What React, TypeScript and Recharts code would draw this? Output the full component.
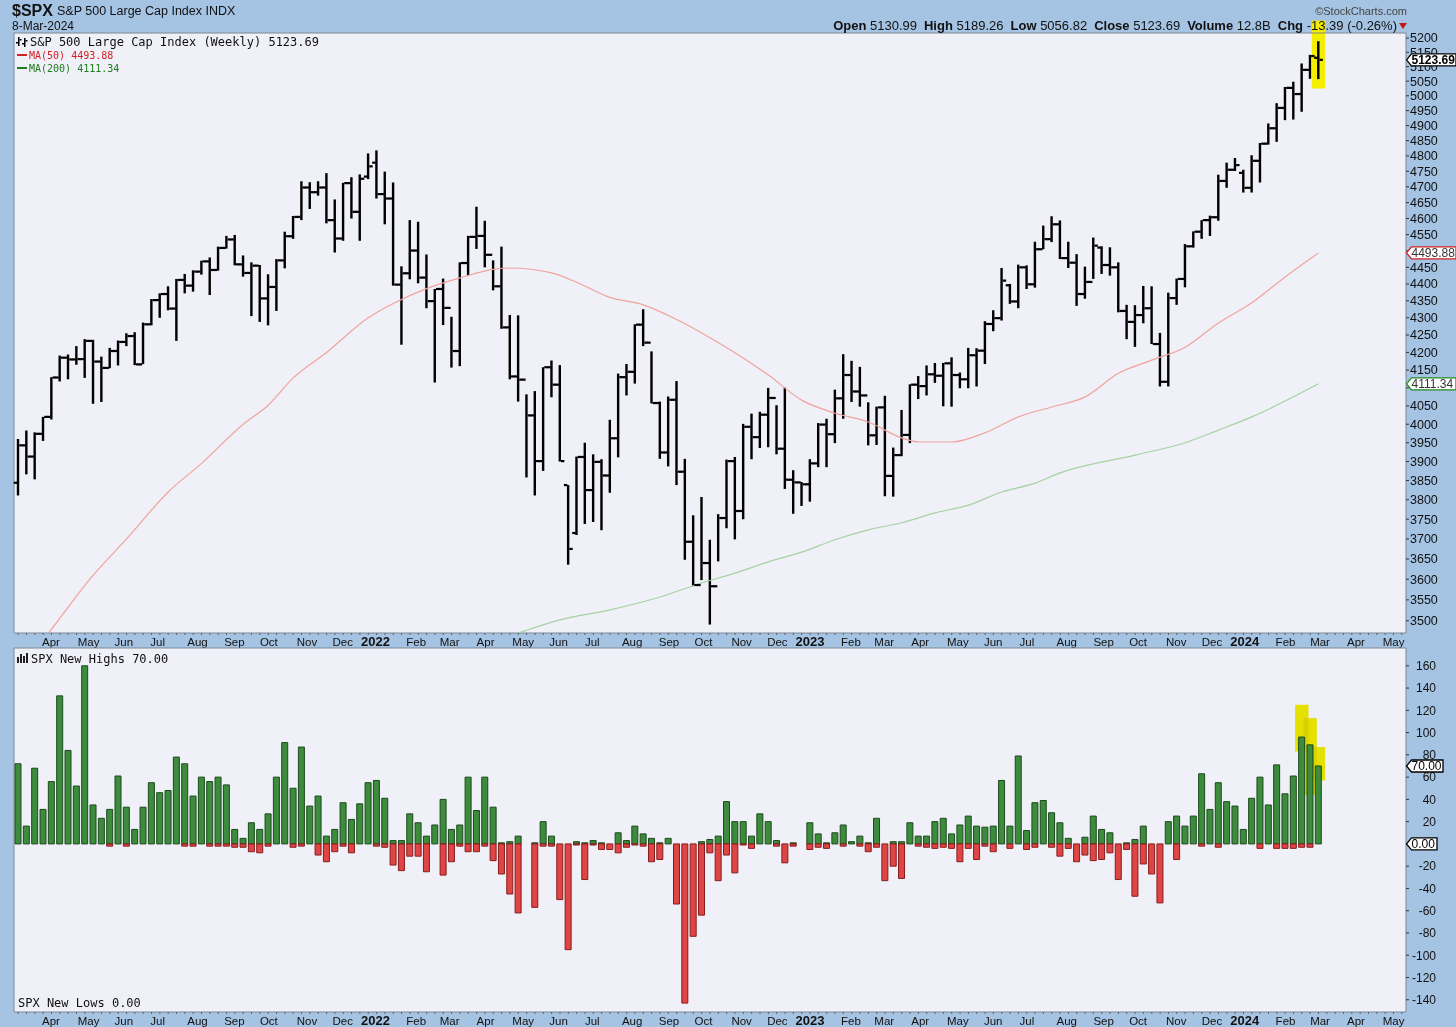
import React from 'react';
import {
  ComposedChart,
  Bar,
  Line,
  XAxis,
  YAxis,
  ReferenceArea,
  CartesianGrid,
} from 'recharts';

// ---------------- categories ----------------
const FIRST_WEEK = '2021-03-12';
const DATA_WEEKS = 157;
const TOTAL_WEEKS = 167; // includes empty future weeks up to May 2024

function makeWeeks(start: string, n: number): string[] {
  const [y, m, d] = start.split('-').map(Number);
  const t0 = Date.UTC(y, m - 1, d);
  const out: string[] = [];
  for (let i = 0; i < n; i++) out.push(new Date(t0 + i * 7 * 86400000).toISOString().slice(0, 10));
  return out;
}
const weeks = makeWeeks(FIRST_WEEK, TOTAL_WEEKS);

// ---------------- weekly OHLC ----------------
const opens = [
  3844, 3943, 3913, 3974, 4020, 4129, 4185, 4180, 4181, 4233,
  4174, 4156, 4204, 4230, 4247, 4166, 4281, 4352, 4370, 4327,
  4412, 4395, 4437, 4468, 4442, 4509, 4535, 4459, 4433, 4455,
  4357, 4391, 4471, 4545, 4605, 4698, 4683, 4698, 4595, 4538,
  4712, 4621, 4733, 4778, 4677, 4663, 4398, 4432, 4501, 4419,
  4349, 4385, 4329, 4204, 4463, 4543, 4546, 4488, 4393, 4272,
  4132, 4123, 4024, 3901, 4158, 4109, 3838, 3715, 3912, 3825,
  3899, 3863, 3962, 4130, 4145, 4280, 4228, 4058, 3924, 4067,
  3873, 3693, 3586, 3640, 3583, 3753, 3901, 3771, 3993, 3965,
  4026, 4072, 3934, 3852, 3845, 3840, 3895, 3999, 3973, 4071,
  4136, 4090, 4079, 3970, 4046, 3862, 3917, 3971, 4109, 4105,
  4138, 4134, 4169, 4136, 4124, 4192, 4205, 4282, 4299, 4396,
  4348, 4450, 4399, 4505, 4536, 4582, 4478, 4464, 4370, 4406,
  4510, 4457, 4450, 4320, 4288, 4308, 4328, 4224, 4117, 4358,
  4415, 4514, 4559, 4595, 4604, 4719, 4755, 4745, 4697, 4784,
  4840, 4891, 4959, 5027, 5006, 5089, 5131,
];
const highs = [
  3960, 3983, 3978, 4020, 4130, 4191, 4194, 4218, 4238, 4236,
  4188, 4213, 4234, 4255, 4258, 4286, 4355, 4372, 4393, 4415,
  4430, 4441, 4470, 4480, 4513, 4546, 4549, 4486, 4465, 4457,
  4429, 4475, 4559, 4608, 4718, 4715, 4718, 4744, 4660, 4713,
  4731, 4740, 4808, 4818, 4749, 4714, 4453, 4595, 4590, 4489,
  4385, 4416, 4303, 4465, 4546, 4637, 4593, 4471, 4513, 4308,
  4307, 4082, 4091, 4158, 4177, 4164, 3838, 3913, 3950, 3919,
  3906, 4012, 4140, 4167, 4281, 4325, 4203, 4062, 4076, 4119,
  3907, 3760, 3807, 3698, 3763, 3905, 3912, 4001, 4029, 4034,
  4100, 4052, 4101, 3877, 3846, 3906, 4003, 4015, 4095, 4195,
  4176, 4159, 4060, 4048, 4078, 3937, 4039, 4110, 4133, 4163,
  4170, 4170, 4186, 4143, 4213, 4212, 4290, 4322, 4448, 4400,
  4458, 4456, 4528, 4578, 4607, 4594, 4528, 4490, 4452, 4541,
  4514, 4511, 4465, 4338, 4337, 4394, 4393, 4256, 4374, 4416,
  4521, 4560, 4595, 4609, 4739, 4778, 4793, 4755, 4802, 4842,
  4907, 4975, 5030, 5048, 5111, 5141, 5189,
];
const lows = [
  3811, 3866, 3853, 3955, 4013, 4118, 4124, 4165, 4128, 4056,
  4061, 4155, 4163, 4218, 4164, 4167, 4278, 4300, 4322, 4233,
  4372, 4377, 4428, 4367, 4440, 4507, 4456, 4422, 4305, 4288,
  4278, 4320, 4447, 4537, 4595, 4630, 4672, 4585, 4495, 4531,
  4600, 4531, 4725, 4663, 4582, 4395, 4222, 4414, 4402, 4328,
  4115, 4279, 4157, 4161, 4424, 4506, 4450, 4381, 4268, 4124,
  4062, 3858, 3811, 3875, 4074, 3900, 3636, 3710, 3738, 3743,
  3722, 3818, 3911, 4079, 4112, 4218, 4057, 3907, 3887, 3838,
  3648, 3584, 3598, 3491, 3644, 3727, 3699, 3750, 3906, 3936,
  3938, 3919, 3828, 3764, 3784, 3795, 3885, 3885, 3949, 4015,
  4061, 4048, 3943, 3944, 3809, 3808, 3914, 3949, 4069, 4079,
  4114, 4049, 4048, 4099, 4099, 4104, 4167, 4261, 4292, 4341,
  4328, 4385, 4389, 4505, 4527, 4475, 4448, 4335, 4356, 4415,
  4430, 4425, 4316, 4238, 4216, 4284, 4224, 4104, 4104, 4338,
  4390, 4510, 4537, 4546, 4593, 4697, 4751, 4682, 4682, 4714,
  4837, 4846, 4918, 4920, 4946, 5058, 5057,
];
const closes = [
  3943, 3913, 3974, 4020, 4129, 4185, 4180, 4181, 4233, 4174,
  4156, 4204, 4230, 4247, 4166, 4281, 4352, 4370, 4327, 4412,
  4395, 4437, 4468, 4442, 4509, 4535, 4459, 4433, 4455, 4357,
  4391, 4471, 4545, 4605, 4698, 4683, 4698, 4595, 4538, 4712,
  4621, 4726, 4766, 4677, 4663, 4398, 4432, 4501, 4419, 4349,
  4385, 4329, 4204, 4463, 4543, 4546, 4488, 4393, 4272, 4132,
  4123, 4024, 3901, 4158, 4109, 3901, 3675, 3912, 3825, 3899,
  3863, 3962, 4130, 4145, 4280, 4228, 4058, 3924, 4067, 3873,
  3693, 3586, 3640, 3583, 3753, 3901, 3771, 3993, 3965, 4026,
  4072, 3934, 3852, 3845, 3840, 3895, 3999, 3973, 4071, 4136,
  4090, 4079, 3970, 4046, 3862, 3917, 3971, 4109, 4105, 4138,
  4134, 4169, 4136, 4124, 4192, 4205, 4282, 4299, 4410, 4348,
  4450, 4399, 4505, 4536, 4582, 4478, 4464, 4370, 4406, 4516,
  4457, 4450, 4320, 4288, 4308, 4328, 4224, 4117, 4358, 4415,
  4514, 4559, 4595, 4604, 4719, 4755, 4770, 4697, 4784, 4840,
  4891, 4959, 5027, 5006, 5089, 5137, 5123.69,
];

// ---------------- moving averages (values read at sample weeks, 1-based) ----------------
const ma50Weeks = [1, 5, 10, 14, 19, 23, 28, 31, 34, 38, 43, 46, 50, 54, 58, 60, 65, 68, 72, 76, 80, 83, 87, 91, 95, 99, 103, 107, 109, 113, 117, 121, 125, 129, 133, 137, 141, 145, 149, 153, 157];
const ma50Values = [3380, 3480, 3610, 3700, 3820, 3895, 4000, 4052, 4128, 4200, 4300, 4342, 4386, 4418, 4444, 4448, 4433, 4405, 4360, 4338, 4295, 4256, 4199, 4136, 4066, 4030, 4006, 3963, 3952, 3952, 3977, 4020, 4047, 4075, 4141, 4178, 4215, 4285, 4344, 4421, 4493.88];
const ma200Weeks = [57, 61, 66, 72, 78, 83, 87, 91, 95, 99, 103, 107, 111, 115, 119, 123, 126, 135, 141, 145, 149, 157];
const ma200Values = [3445, 3471, 3502, 3526, 3557, 3591, 3615, 3643, 3667, 3698, 3723, 3741, 3766, 3786, 3820, 3843, 3870, 3917, 3950, 3984, 4020, 4111.34];

// ---------------- SPX new highs / new lows ----------------
const newHighs = [
  72, 16, 68, 31, 56, 133, 84, 52, 160, 35,
  23, 31, 61, 33, 13, 33, 55, 46, 48, 78,
  72, 43, 60, 56, 60, 53, 13, 5, 19, 13,
  27, 60, 91, 50, 87, 34, 43, 7, 13, 37,
  22, 36, 55, 57, 41, 3, 3, 27, 19, 7,
  17, 40, 13, 17, 60, 30, 60, 33, 1, 2,
  7, 0, 1, 20, 7, 0, 0, 2, 1, 3,
  1, 0, 10, 3, 16, 9, 5, 1, 5, 0,
  0, 0, 2, 4, 7, 38, 20, 20, 7, 27,
  20, 3, 0, 1, 0, 19, 9, 1, 10, 17,
  2, 7, 1, 23, 0, 2, 2, 19, 7, 7,
  20, 23, 9, 17, 25, 16, 15, 16, 57, 16,
  79, 12, 37, 39, 28, 19, 5, 0, 6, 25,
  13, 10, 0, 1, 4, 16, 0, 0, 20, 25,
  16, 25, 63, 31, 55, 38, 34, 13, 41, 60,
  35, 71, 45, 61, 96, 89, 70,
];
const newLows = [
  0, 0, 0, 0, 0, 0, 0, 0, 0, 0,
  0, 2, 0, 2, 0, 0, 0, 0, 0, 0,
  2, 2, 0, 2, 2, 2, 3, 3, 7, 8,
  2, 0, 0, 3, 2, 0, 10, 16, 7, 2,
  8, 0, 0, 2, 3, 19, 24, 11, 11, 25,
  0, 28, 16, 2, 7, 7, 2, 15, 27, 45,
  62, 0, 57, 2, 2, 50, 95, 1, 32, 1,
  5, 5, 8, 3, 1, 2, 16, 14, 0, 54,
  143, 83, 64, 8, 33, 10, 26, 1, 4, 0,
  0, 2, 17, 2, 0, 5, 3, 4, 0, 2,
  0, 2, 7, 3, 33, 20, 31, 0, 2, 3,
  4, 3, 4, 16, 4, 14, 2, 7, 0, 4,
  0, 5, 3, 0, 3, 11, 4, 16, 10, 15,
  14, 8, 32, 5, 47, 18, 27, 53, 0, 14,
  0, 0, 2, 0, 3, 0, 0, 0, 0, 4,
  0, 4, 4, 4, 3, 3, 0,
];

// ---------------- axis tick labels ----------------
const priceTicks = [
  3500, 3550, 3600, 3650, 3700, 3750, 3800, 3850, 3900, 3950, 4000, 4050,
  4100, 4150, 4200, 4250, 4300, 4350, 4400, 4450, 4500, 4550, 4600, 4650,
  4700, 4750, 4800, 4850, 4900, 4950, 5000, 5050, 5100, 5150, 5200,
];
const priceLabelsHiddenByTags = [4100, 4500];
const indTicks = [-140, -120, -100, -80, -60, -40, -20, 0, 20, 40, 60, 80, 100, 120, 140, 160];
const monthTickDates = [
  '2021-04-01', '2021-05-01', '2021-06-01', '2021-07-01', '2021-08-01', '2021-09-01', '2021-10-01', '2021-11-01', '2021-12-01',
  '2022-01-01', '2022-02-01', '2022-03-01', '2022-04-01', '2022-05-01', '2022-06-01', '2022-07-01', '2022-08-01', '2022-09-01', '2022-10-01', '2022-11-01', '2022-12-01',
  '2023-01-01', '2023-02-01', '2023-03-01', '2023-04-01', '2023-05-01', '2023-06-01', '2023-07-01', '2023-08-01', '2023-09-01', '2023-10-01', '2023-11-01', '2023-12-01',
  '2024-01-01', '2024-02-01', '2024-03-01', '2024-04-01', '2024-05-01',
];
const monthTickLabels = [
  'Apr', 'May', 'Jun', 'Jul', 'Aug', 'Sep', 'Oct', 'Nov', 'Dec',
  '2022', 'Feb', 'Mar', 'Apr', 'May', 'Jun', 'Jul', 'Aug', 'Sep', 'Oct', 'Nov', 'Dec',
  '2023', 'Feb', 'Mar', 'Apr', 'May', 'Jun', 'Jul', 'Aug', 'Sep', 'Oct', 'Nov', 'Dec',
  '2024', 'Feb', 'Mar', 'Apr', 'May',
];

// ---------------- value tags on the right axis ----------------
const priceTags = [
  { value: 4111.34, text: '4111.34', border: '#208a20', color: '#333', bold: false, w: 50 },
  { value: 4493.88, text: '4493.88', border: '#d42020', color: '#333', bold: false, w: 50 },
  { value: 5123.69, text: '5123.69', border: '#000', color: '#000', bold: true, w: 50 },
];
const indTags = [
  { value: 0, text: '0.00', border: '#000', color: '#000', bold: false, w: 31 },
  { value: 70, text: '70.00', border: '#000', color: '#000', bold: false, w: 37 },
];

// ---------------- highlights (annotation) ----------------
const priceHighlight = { week: '2024-03-08', from: 5025, to: 5262 };
const indHighlights = [
  { week: '2024-02-23', from: 83, to: 125 },
  { week: '2024-03-01', from: 44, to: 113 },
  { week: '2024-03-08', from: 57, to: 87 },
];

// ---------------- layout / style ----------------
const W = 1456;
const H = 1027;
const PLOT_L = 14;
const PLOT_R = 1406;
const BAND = (PLOT_R - PLOT_L) / TOTAL_WEEKS;
const PRICE_DOMAIN: [number, number] = [3471, 5218];
const IND_DOMAIN: [number, number] = [-151, 176];
const BG = '#a5c3e2';
const PLOT_BG = '#eff0f8';
const BORDER = '#7f8894';
const AXIS_FONT = '"Liberation Sans", Arial, sans-serif';
const MONO = '"DejaVu Sans Mono", monospace';

// ---------------- tables ----------------
const ma50ByWeek: Record<number, number> = {};
ma50Weeks.forEach((w, k) => (ma50ByWeek[w] = ma50Values[k]));
const ma200ByWeek: Record<number, number> = {};
ma200Weeks.forEach((w, k) => (ma200ByWeek[w] = ma200Values[k]));

const priceRows = weeks.map((w, i) =>
  i < DATA_WEEKS
    ? {
        week: w,
        hl: [lows[i], highs[i]],
        open: opens[i],
        close: closes[i],
        ma50: ma50ByWeek[i + 1] ?? null,
        ma200: ma200ByWeek[i + 1] ?? null,
      }
    : { week: w, hl: null, open: null, close: null, ma50: null, ma200: null }
);

const indRows = weeks.map((w, i) =>
  i < DATA_WEEKS ? { week: w, nh: newHighs[i], nl: -newLows[i] } : { week: w, nh: null, nl: null }
);

// tick arrays: regular ticks first, tags last so they are painted on top
const priceAxisTicks = [...priceTicks, ...priceTags.map((t) => t.value)];
const indAxisTicks = [...indTicks.filter((v) => !indTags.some((t) => t.value === v)), ...indTags.map((t) => t.value)];

const toMs = (s: string) => Date.UTC(+s.slice(0, 4), +s.slice(5, 7) - 1, +s.slice(8, 10));
const tickLabelByWeek: Record<string, { text: string; dx: number; year: boolean }> = {};
monthTickDates.forEach((d, k) => {
  const idx = weeks.findIndex((w) => w >= d);
  if (idx < 0) return;
  const days = (toMs(weeks[idx]) - toMs(d)) / 86400000;
  const text = monthTickLabels[k];
  tickLabelByWeek[weeks[idx]] = { text, dx: (-days / 7) * BAND, year: /^\d{4}$/.test(text) };
});

// ---------------- custom marks ----------------
function HLShape(p: any) {
  if (p == null || p.x == null || p.height == null || isNaN(p.y)) return <g />;
  const top = Math.min(p.y, p.y + p.height);
  const h = Math.max(Math.abs(p.height), 1);
  const cx = p.x + p.width / 2;
  return <rect x={cx - 1.2} y={top} width={2.4} height={h} fill="#000" />;
}

function OpenTick(p: any) {
  if (p.cx == null || p.cy == null || isNaN(p.cy)) return <g key={p.key} />;
  return <rect key={p.key} x={p.cx - 4.4} y={p.cy - 1.1} width={3.4} height={2.2} fill="#000" />;
}
function CloseTick(p: any) {
  if (p.cx == null || p.cy == null || isNaN(p.cy)) return <g key={p.key} />;
  return <rect key={p.key} x={p.cx + 1} y={p.cy - 1.1} width={3.4} height={2.2} fill="#000" />;
}

function WeekTick(props: any) {
  const { x, y, payload } = props;
  const lab = tickLabelByWeek[payload.value];
  return (
    <g>
      <line x1={x} x2={x} y1={y} y2={y + 2} stroke="#556070" strokeWidth={1} />
      {lab ? (
        <text
          x={lab.year ? x + lab.dx + 6 : x + lab.dx}
          y={y + 13}
          textAnchor={lab.year ? 'middle' : 'start'}
          fontSize={lab.year ? 13 : 11.5}
          fontWeight={lab.year ? 700 : 400}
          fill="#111"
          fontFamily={AXIS_FONT}
        >
          {lab.text}
        </text>
      ) : null}
    </g>
  );
}

function TagShape({ y, tag }: { y: number; tag: any }) {
  const x = PLOT_R;
  const h = 12;
  return (
    <g>
      <path
        d={`M${x + 0.5},${y} L${x + 5.5},${y - h / 2} L${x + tag.w},${y - h / 2} L${x + tag.w},${y + h / 2} L${x + 5.5},${y + h / 2} Z`}
        fill="#fff"
        stroke={tag.border}
        strokeWidth={1.3}
      />
      <text x={x + 5.5} y={y + 4.4} fontSize={12} fontWeight={tag.bold ? 700 : 400} fill={tag.color} fontFamily={AXIS_FONT}>
        {tag.text}
      </text>
    </g>
  );
}

function PriceTick(props: any) {
  const { y, payload, index } = props;
  const v = payload.value;
  if (index >= priceTicks.length) {
    const tag = priceTags.find((t) => t.value === v);
    return tag ? <TagShape y={y} tag={tag} /> : <g />;
  }
  return (
    <g>
      <line x1={PLOT_R} x2={PLOT_R + 3} y1={y} y2={y} stroke="#333" />
      {priceLabelsHiddenByTags.includes(v) ? null : (
        <text x={PLOT_R + 4} y={y + 4.4} textAnchor="start" fontSize={12.5} fill="#111" fontFamily={AXIS_FONT}>
          {v}
        </text>
      )}
    </g>
  );
}

function IndTick(props: any) {
  const { y, payload, index } = props;
  const v = payload.value;
  const nRegular = indAxisTicks.length - indTags.length;
  if (index >= nRegular) {
    const tag = indTags.find((t) => t.value === v);
    return tag ? (
      <g>
        <line x1={PLOT_R} x2={PLOT_R + 3} y1={y} y2={y} stroke="#333" />
        <TagShape y={y} tag={tag} />
      </g>
    ) : (
      <g />
    );
  }
  return (
    <g>
      <line x1={PLOT_R} x2={PLOT_R + 3} y1={y} y2={y} stroke="#333" />
      <text x={1436} y={y + 4.3} textAnchor="end" fontSize={12} fill="#111" fontFamily={AXIS_FONT}>
        {v}
      </text>
    </g>
  );
}

const widen = (fill: string, blend: boolean) => (p: any) =>
  (
    <rect
      x={p.x - 2.5}
      y={p.y}
      width={p.width + 5}
      height={p.height}
      fill={fill}
      style={blend ? { mixBlendMode: 'multiply' } : undefined}
    />
  );

// ---------------- text helper ----------------
function T(props: { x?: number; right?: number; cy: number; size: number; style?: React.CSSProperties; children: React.ReactNode }) {
  const { x, right, cy, size, style, children } = props;
  const lh = Math.round(size * 1.5);
  return (
    <div
      style={{
        position: 'absolute',
        left: x,
        right,
        top: cy - lh / 2,
        fontSize: size,
        lineHeight: `${lh}px`,
        whiteSpace: 'nowrap',
        fontFamily: AXIS_FONT,
        color: '#111',
        zIndex: 5,
        ...style,
      }}
    >
      {children}
    </div>
  );
}

const ohlcHeader: [string, string][] = [
  ['Open', '5130.99'],
  ['High', '5189.26'],
  ['Low', '5056.82'],
  ['Close', '5123.69'],
  ['Volume', '12.8B'],
  ['Chg', '-13.39 (-0.26%)'],
];

export default function App() {
  return (
    <div style={{ position: 'absolute', left: 0, top: 0, width: W, height: H, background: BG, overflow: 'hidden' }}>
      {/* price panel */}
      <div style={{ position: 'absolute', left: 0, top: 0 }}>
        <ComposedChart width={W} height={650} data={priceRows} margin={{ top: 33, right: 0, bottom: 0, left: PLOT_L }}>
          <CartesianGrid fill={PLOT_BG} horizontal={false} vertical={false} />
          <XAxis
            dataKey="week"
            interval={0}
            tick={<WeekTick />}
            tickLine={false}
            axisLine={false}
            tickSize={0}
            tickMargin={0}
            height={17}
          />
          <YAxis
            orientation="right"
            type="number"
            scale="log"
            domain={PRICE_DOMAIN}
            allowDataOverflow
            ticks={priceAxisTicks}
            interval={0}
            width={50}
            tickSize={0}
            tickMargin={0}
            axisLine={false}
            tickLine={false}
            tick={<PriceTick />}
          />
          <ReferenceArea
            x1={priceHighlight.week}
            x2={priceHighlight.week}
            y1={priceHighlight.from}
            y2={priceHighlight.to}
            ifOverflow="visible"
            shape={widen('#f4ee00', false)}
          />
          <Line dataKey="ma50" type="monotone" connectNulls stroke="#f0a49c" strokeWidth={1.2} dot={false} activeDot={false} isAnimationActive={false} />
          <Line dataKey="ma200" type="monotone" connectNulls stroke="#a6d2a0" strokeWidth={1.2} dot={false} activeDot={false} isAnimationActive={false} />
          <Bar dataKey="hl" barSize={6} shape={HLShape} isAnimationActive={false} />
          <Line dataKey="open" stroke="none" dot={OpenTick} activeDot={false} isAnimationActive={false} />
          <Line dataKey="close" stroke="none" dot={CloseTick} activeDot={false} isAnimationActive={false} />
          <ReferenceArea
            x1={weeks[0]}
            x2={weeks[weeks.length - 1]}
            y1={PRICE_DOMAIN[0]}
            y2={PRICE_DOMAIN[1]}
            fill="none"
            stroke={BORDER}
            strokeWidth={1}
            ifOverflow="visible"
          />
        </ComposedChart>
      </div>

      {/* new highs / new lows panel */}
      <div style={{ position: 'absolute', left: 0, top: 640 }}>
        <ComposedChart
          width={W}
          height={387}
          data={indRows}
          stackOffset="sign"
          margin={{ top: 8, right: 0, bottom: 0, left: PLOT_L }}
        >
          <CartesianGrid fill={PLOT_BG} horizontal={false} vertical={false} />
          <XAxis
            dataKey="week"
            interval={0}
            tick={<WeekTick />}
            tickLine={false}
            axisLine={false}
            tickSize={0}
            tickMargin={0}
            height={15}
          />
          <YAxis
            orientation="right"
            type="number"
            domain={IND_DOMAIN}
            allowDataOverflow
            ticks={indAxisTicks}
            interval={0}
            width={50}
            tickSize={0}
            tickMargin={0}
            axisLine={false}
            tickLine={false}
            tick={<IndTick />}
          />
          <Bar dataKey="nh" stackId="s" barSize={6} fill="#3d8b3d" stroke="#1c4a1c" strokeWidth={1} isAnimationActive={false} />
          <Bar dataKey="nl" stackId="s" barSize={6} fill="#e04545" stroke="#871c1c" strokeWidth={1} isAnimationActive={false} />
          {indHighlights.map((hl) => (
            <ReferenceArea
              key={hl.week}
              x1={hl.week}
              x2={hl.week}
              y1={hl.from}
              y2={hl.to}
              ifOverflow="visible"
              shape={widen('#f4ee00', true)}
            />
          ))}
          <ReferenceArea
            x1={weeks[0]}
            x2={weeks[weeks.length - 1]}
            y1={IND_DOMAIN[0]}
            y2={IND_DOMAIN[1]}
            fill="none"
            stroke={BORDER}
            strokeWidth={1}
            ifOverflow="visible"
          />
        </ComposedChart>
      </div>

      {/* header */}
      <T x={12} cy={11} size={16} style={{ fontWeight: 700 }}>$SPX</T>
      <T x={57} cy={11} size={12.5}>S&amp;P 500 Large Cap Index INDX</T>
      <T x={12} cy={26} size={12}>8-Mar-2024</T>
      <T right={W - 1407} cy={11} size={11} style={{ color: '#444' }}>©StockCharts.com</T>
      <T right={W - 1397} cy={26} size={13}>
        {ohlcHeader.map(([k, v], i) => (
          <span key={k} style={{ marginLeft: i === 0 ? 0 : 7 }}>
            <b>{k}</b> {v}
          </span>
        ))}
      </T>
      <svg style={{ position: 'absolute', left: 1399, top: 23, zIndex: 5 }} width={9} height={7}>
        <path d="M0,0 L8,0 L4,6 Z" fill="#c01818" />
      </svg>

      {/* price legend */}
      <svg style={{ position: 'absolute', left: 16, top: 36, zIndex: 5 }} width={12} height={12}>
        <rect x={2} y={1} width={1.5} height={9} fill="#000" />
        <rect x={0} y={6} width={2} height={1.5} fill="#000" />
        <rect x={3.5} y={3} width={2} height={1.5} fill="#000" />
        <rect x={8} y={2} width={1.5} height={9} fill="#000" />
        <rect x={6} y={7} width={2} height={1.5} fill="#000" />
        <rect x={9.5} y={4} width={2} height={1.5} fill="#000" />
      </svg>
      <T x={30} cy={42} size={12} style={{ fontFamily: MONO }}>S&amp;P 500 Large Cap Index (Weekly) 5123.69</T>
      <div style={{ position: 'absolute', left: 17, top: 54, width: 10, height: 2, background: '#d42020', zIndex: 5 }} />
      <T x={29} cy={55} size={10} style={{ fontFamily: MONO, color: '#d42020' }}>MA(50) 4493.88</T>
      <div style={{ position: 'absolute', left: 17, top: 67, width: 10, height: 2, background: '#1f7d1f', zIndex: 5 }} />
      <T x={29} cy={68} size={10} style={{ fontFamily: MONO, color: '#1f7d1f' }}>MA(200) 4111.34</T>

      {/* indicator legend */}
      <svg style={{ position: 'absolute', left: 17, top: 653, zIndex: 5 }} width={11} height={10}>
        <rect x={0} y={4} width={2} height={6} fill="#222" />
        <rect x={3} y={1} width={2} height={9} fill="#222" />
        <rect x={6} y={3} width={2} height={7} fill="#222" />
        <rect x={9} y={0} width={2} height={10} fill="#222" />
      </svg>
      <T x={31} cy={659} size={12} style={{ fontFamily: MONO }}>SPX New Highs 70.00</T>
      <T x={18} cy={1003} size={12} style={{ fontFamily: MONO }}>SPX New Lows 0.00</T>
    </div>
  );
}
